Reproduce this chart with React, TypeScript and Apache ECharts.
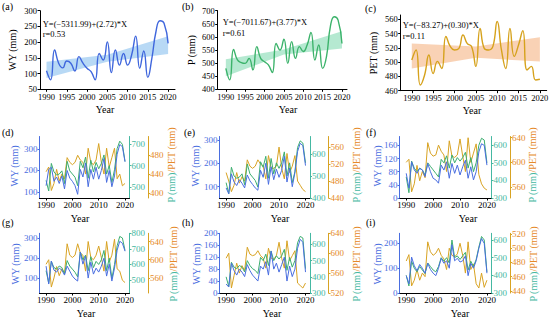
import React, { useEffect, useRef } from 'react';
import * as echarts from 'echarts';

const years = [1990, 1991, 1992, 1993, 1994, 1995, 1996, 1997, 1998, 1999, 2000, 2001, 2002, 2003, 2004, 2005, 2006, 2007, 2008, 2009, 2010, 2011, 2012, 2013, 2014, 2015, 2016, 2017, 2018, 2019, 2020];
const topTicks = [1990, 1995, 2000, 2005, 2010, 2015, 2020];
const bottomTicks = [1990, 2000, 2010, 2020];

// Top row (whole basin)
const wyA = [109, 80, 175, 133, 118, 140, 133, 108, 154, 133, 117, 106, 80, 164, 143, 201, 103, 175, 127, 164, 127, 159, 219, 117, 172, 88, 149, 233, 268, 260, 196];
const pB = [480, 436, 552, 512, 502, 499, 518, 474, 563, 518, 505, 493, 464, 575, 550, 591, 499, 582, 518, 563, 544, 569, 617, 512, 569, 480, 525, 639, 677, 664, 575];
const petC = [503, 517, 468, 482, 510, 484, 501, 491, 536, 522, 517, 519, 538, 526, 522, 494, 547, 519, 517, 522, 557, 517, 491, 547, 508, 524, 544, 489, 494, 475, 476];

const bandYears = [1990, 2005, 2020];
const bandALow = [86, 138, 162];
const bandAHigh = [138, 160, 219];
const bandBLow = [450, 533, 556];
const bandBHigh = [515, 552, 622];
const bandCLow = [491, 506, 501];
const bandCHigh = [526, 522, 535];

// Sub-basins (d)-(i)
const wyD = [130, 205, 215, 150, 170, 140, 175, 115, 200, 165, 150, 130, 90, 205, 170, 235, 125, 205, 160, 215, 160, 200, 255, 145, 200, 125, 175, 275, 320, 310, 240];
const pD = [530, 480, 610, 570, 555, 560, 575, 515, 620, 575, 560, 545, 505, 620, 590, 640, 540, 625, 570, 615, 585, 610, 650, 560, 600, 520, 580, 680, 715, 700, 620];
const petD = [445, 455, 405, 420, 450, 425, 440, 430, 475, 465, 460, 465, 480, 470, 465, 440, 495, 465, 460, 470, 505, 465, 440, 495, 455, 475, 495, 430, 440, 415, 420];

const wyE = [95, 70, 155, 120, 105, 130, 115, 95, 150, 125, 110, 95, 85, 170, 140, 200, 110, 185, 130, 175, 140, 170, 230, 120, 180, 100, 160, 250, 285, 275, 190];
const pE = [470, 420, 540, 500, 490, 495, 510, 460, 555, 510, 495, 480, 450, 565, 540, 590, 490, 580, 510, 560, 535, 560, 610, 500, 560, 470, 520, 630, 660, 650, 560];
const petE = [500, 480, 455, 470, 500, 475, 490, 480, 530, 515, 510, 515, 530, 520, 515, 485, 540, 510, 510, 515, 560, 510, 485, 545, 500, 515, 540, 480, 470, 460, 455];

const wyF = [75, 30, 110, 85, 75, 90, 85, 65, 105, 80, 60, 55, 45, 100, 85, 110, 60, 105, 75, 100, 70, 95, 115, 60, 95, 55, 80, 140, 165, 160, 100];
const pF = [420, 330, 510, 470, 450, 470, 460, 430, 500, 480, 460, 440, 420, 520, 500, 540, 470, 545, 500, 530, 510, 530, 560, 470, 530, 450, 500, 600, 640, 630, 500];
const petF = [600, 605, 552, 565, 595, 570, 585, 575, 632, 615, 610, 612, 628, 618, 612, 585, 635, 610, 608, 612, 638, 610, 585, 640, 600, 615, 630, 580, 565, 558, 555];

const wyG = [160, 70, 185, 140, 130, 150, 140, 115, 160, 135, 110, 95, 85, 230, 170, 210, 100, 180, 120, 150, 130, 160, 200, 110, 170, 85, 150, 240, 285, 275, 235];
const pG = [560, 480, 620, 580, 570, 590, 580, 540, 625, 590, 570, 550, 520, 680, 630, 660, 560, 650, 580, 620, 600, 630, 690, 560, 640, 510, 600, 720, 780, 770, 690];
const petG = [590, 600, 540, 560, 585, 565, 580, 570, 635, 610, 605, 610, 635, 615, 610, 575, 640, 605, 600, 610, 630, 605, 575, 640, 595, 610, 645, 580, 575, 555, 550];

const wyH = [30, 20, 100, 75, 60, 80, 70, 55, 95, 75, 60, 50, 40, 90, 80, 105, 60, 140, 80, 100, 70, 95, 120, 40, 90, 55, 80, 150, 180, 170, 70];
const pH = [400, 340, 490, 460, 450, 470, 460, 430, 500, 470, 450, 440, 420, 520, 500, 540, 470, 560, 500, 530, 510, 530, 570, 440, 520, 460, 500, 610, 650, 640, 450];
const petH = [590, 600, 530, 555, 580, 560, 575, 565, 612, 598, 595, 597, 605, 595, 590, 570, 610, 590, 588, 595, 622, 590, 570, 625, 585, 595, 605, 540, 535, 530, 540];

const wyI = [70, 37, 145, 110, 90, 115, 100, 80, 120, 95, 80, 70, 100, 140, 120, 130, 100, 195, 130, 140, 125, 130, 150, 70, 120, 100, 130, 180, 220, 200, 80];
const pI = [400, 340, 480, 440, 420, 450, 430, 410, 470, 450, 430, 420, 450, 500, 480, 500, 470, 600, 500, 510, 490, 510, 530, 430, 480, 450, 490, 560, 620, 600, 420];
const petI = [482, 491, 447, 455, 470, 455, 465, 460, 509, 495, 490, 493, 500, 490, 485, 470, 500, 490, 488, 492, 507, 490, 465, 509, 470, 478, 450, 444, 465, 445, 455];

const FONT = '"Liberation Serif", "Times New Roman", serif';
const BLUE = '#4a6ee0';
const GREEN = '#3dae70';
const TEAL = '#45b8a2';
const GOLD = '#d8a323';
const ORANGE = '#e58a2a';

const grids: any[] = [];
const xAxes: any[] = [];
const yAxes: any[] = [];
const series: any[] = [];

const plain = (v: number) => String(v);

function pairs(vals: number[]) {
  return years.map((y, i) => [y, vals[i]]);
}

function addXAxis(gi: number, min: number, max: number, ticks: number[], fontSize: number, margin: number) {
  xAxes.push({
    type: 'value', gridIndex: gi, min, max,
    axisLine: { show: true, onZero: false, lineStyle: { color: '#000', width: 1 } },
    axisTick: { show: true, length: 2.5, inside: false, customValues: ticks, lineStyle: { color: '#000' } },
    axisLabel: { customValues: ticks, formatter: plain, fontSize, fontFamily: FONT, color: '#000', margin },
    splitLine: { show: false },
  });
  return xAxes.length - 1;
}

function addTop(c: any) {
  const gi = grids.length;
  grids.push({ left: c.left, top: c.top, width: c.width, height: c.height, containLabel: false, outerBoundsMode: 'none' });
  const xi = addXAxis(gi, c.xmin, c.xmax, topTicks, 8.5, 3);
  yAxes.push({
    type: 'value', gridIndex: gi, min: c.ymin, max: c.ymax,
    axisLine: { show: true, onZero: false, lineStyle: { color: '#000', width: 1 } },
    axisTick: { show: true, length: 2.5, customValues: c.yticks, lineStyle: { color: '#000' } },
    axisLabel: { customValues: c.yticks, formatter: plain, fontSize: 8.5, fontFamily: FONT, color: '#000', margin: 3 },
    splitLine: { show: false },
  });
  const yi = yAxes.length - 1;
  const low = c.low, high = c.high;
  series.push({
    type: 'custom', xAxisIndex: xi, yAxisIndex: yi, silent: true, z: 1,
    data: bandYears.map((y, i) => [y, low[i], high[i]]),
    encode: { x: 0, y: [1, 2] },
    renderItem: (params: any, api: any) => {
      if (params.dataIndex !== 0) return null;
      const up = bandYears.map((y, i) => api.coord([y, high[i]]));
      const lo = bandYears.map((y, i) => api.coord([y, low[i]])).reverse();
      return { type: 'polygon', shape: { points: up.concat(lo) }, style: { fill: c.bandColor, opacity: 0.8 } };
    },
  });
  series.push({
    type: 'line', xAxisIndex: xi, yAxisIndex: yi, z: 3,
    data: pairs(c.values), smooth: 0.5, showSymbol: false, symbol: 'none',
    lineStyle: { color: c.color, width: 1.4 },
  });
}

function yAx(gi: number, a: any, position: string, offset: number, lineColor: string, labelColor: string) {
  yAxes.push({
    type: 'value', gridIndex: gi, min: a.min, max: a.max, position, offset,
    axisLine: { show: true, onZero: false, lineStyle: { color: lineColor, width: 1 } },
    axisTick: { show: true, length: 2, customValues: a.ticks, lineStyle: { color: lineColor } },
    axisLabel: { customValues: a.ticks, formatter: plain, fontSize: 9, fontFamily: FONT, color: labelColor, margin: 2 },
    splitLine: { show: false },
  });
  return yAxes.length - 1;
}

function addBottom(c: any) {
  const gi = grids.length;
  grids.push({ left: c.left, top: c.top, width: c.width, height: c.height, containLabel: false, outerBoundsMode: 'none' });
  const xi = addXAxis(gi, 1987.5, 2021.7, bottomTicks, 9, 2);
  const wyi = yAx(gi, c.wy, 'left', 0, BLUE, BLUE);
  const pi = yAx(gi, c.p, 'right', 0, TEAL, TEAL);
  const ei = yAx(gi, c.pet, 'right', 18.5, GOLD, ORANGE);
  series.push({ type: 'line', xAxisIndex: xi, yAxisIndex: ei, data: pairs(c.petData), showSymbol: false, symbol: 'none', lineStyle: { color: GOLD, width: 1 }, z: 2 });
  series.push({ type: 'line', xAxisIndex: xi, yAxisIndex: pi, data: pairs(c.pData), showSymbol: false, symbol: 'none', lineStyle: { color: GREEN, width: 1 }, z: 3 });
  series.push({ type: 'line', xAxisIndex: xi, yAxisIndex: wyi, data: pairs(c.wyData), showSymbol: false, symbol: 'none', lineStyle: { color: BLUE, width: 1 }, z: 4 });
}

addTop({ left: 40, top: 10.7, width: 135, height: 78.6, xmin: 1988.4, xmax: 2021.7, ymin: 50, ymax: 300, yticks: [50, 100, 150, 200, 250, 300], values: wyA, color: '#3f66dd', low: bandALow, high: bandAHigh, bandColor: '#a6cff2' });
addTop({ left: 217.7, top: 10.7, width: 129.3, height: 78.6, xmin: 1987.9, xmax: 2021.3, ymin: 400, ymax: 700, yticks: [400, 450, 500, 550, 600, 650, 700], values: pB, color: '#3cb36b', low: bandBLow, high: bandBHigh, bandColor: '#a3e4c6' });
addTop({ left: 400.7, top: 15, width: 146, height: 75.7, xmin: 1987.4, xmax: 2021.6, ymin: 460, ymax: 566, yticks: [460, 480, 500, 520, 540, 560], values: petC, color: '#d6a21c', low: bandCLow, high: bandCHigh, bandColor: '#f7c7a3' });

const cols = [{ left: 39.5, width: 90 }, { left: 219.5, width: 90.5 }, { left: 399.5, width: 92 }];
const rows = [{ top: 136.5, height: 61.5 }, { top: 233.3, height: 59.7 }];

addBottom({ ...cols[0], ...rows[0], wy: { min: 73, max: 357, ticks: [100, 200, 300] }, p: { min: 447, max: 737, ticks: [500, 600, 700] }, pet: { min: 389, max: 520, ticks: [400, 440, 480] }, wyData: wyD, pData: pD, petData: petD });
addBottom({ ...cols[1], ...rows[0], wy: { min: 52, max: 314, ticks: [100, 200, 300] }, p: { min: 400, max: 680, ticks: [400, 500, 600] }, pet: { min: 440, max: 585, ticks: [440, 480, 520, 560] }, wyData: wyE, pData: pE, petData: petE });
addBottom({ ...cols[2], ...rows[0], wy: { min: 0, max: 187, ticks: [0, 40, 80, 120, 160] }, p: { min: 300, max: 650, ticks: [300, 400, 500, 600] }, pet: { min: 542, max: 642, ticks: [560, 600, 640] }, wyData: wyF, pData: pF, petData: petF });
addBottom({ ...cols[0], ...rows[1], wy: { min: 25, max: 325, ticks: [100, 200, 300] }, p: { min: 417, max: 800, ticks: [500, 600, 700, 800] }, pet: { min: 527, max: 658, ticks: [560, 600, 640] }, wyData: wyG, pData: pG, petData: petG });
addBottom({ ...cols[1], ...rows[1], wy: { min: 0, max: 200, ticks: [0, 40, 80, 120, 160, 200] }, p: { min: 300, max: 669, ticks: [300, 400, 500, 600] }, pet: { min: 520, max: 640, ticks: [520, 560, 600, 640] }, wyData: wyH, pData: pH, petData: petH });
addBottom({ ...cols[2], ...rows[1], wy: { min: 0, max: 241, ticks: [0, 100, 200] }, p: { min: 300, max: 638, ticks: [300, 400, 500, 600] }, pet: { min: 437, max: 521, ticks: [440, 460, 480, 500, 520] }, wyData: wyI, pData: pI, petData: petI });

function txt(x: number, y: number, text: string, opts: any = {}) {
  return {
    type: 'text', x, y, rotation: opts.rot || 0, silent: true,
    style: {
      text, fill: opts.color || '#000', fontSize: opts.size || 10, fontFamily: FONT,
      fontStyle: opts.italic ? 'italic' : 'normal',
      align: opts.align || 'left', verticalAlign: opts.valign || 'middle',
      textAlign: opts.align || 'left', textVerticalAlign: opts.valign || 'middle',
    },
  };
}

function rightTitle(x: number, y: number) {
  return {
    type: 'text', x, y, rotation: Math.PI / 2, silent: true,
    style: {
      text: '{p|P (mm)}{e|/PET (mm)}',
      rich: {
        p: { fill: TEAL, fontSize: 10, fontFamily: FONT },
        e: { fill: ORANGE, fontSize: 10, fontFamily: FONT },
      },
      align: 'center', verticalAlign: 'middle', textAlign: 'center', textVerticalAlign: 'middle',
    },
  };
}

const V = Math.PI / 2;
const graphics: any[] = [
  txt(2, 6, '(a)'), txt(182, 6, '(b)'), txt(365, 8, '(c)'),
  txt(2, 132, '(d)'), txt(184, 132, '(e)'), txt(366, 132, '(f)'),
  txt(2, 222, '(g)'), txt(182, 222, '(h)'), txt(366, 222, '(i)'),
  txt(12.5, 50, 'WY (mm)', { rot: V, align: 'center' }),
  txt(191, 50, 'P (mm)', { rot: V, align: 'center' }),
  txt(373, 53, 'PET (mm)', { rot: V, align: 'center' }),
  txt(105, 109.5, 'Year', { align: 'center' }),
  txt(288, 109.5, 'Year', { align: 'center' }),
  txt(472, 110, 'Year', { align: 'center' }),
  txt(80, 218, 'Year', { align: 'center' }),
  txt(280, 218, 'Year', { align: 'center' }),
  txt(468, 218, 'Year', { align: 'center' }),
  txt(86, 313, 'Year', { align: 'center' }),
  txt(272, 313, 'Year', { align: 'center' }),
  txt(460, 313, 'Year', { align: 'center' }),
  txt(42.7, 23.5, 'Y=(\u22125311.99)+(2.72)*X', { size: 8.5 }),
  txt(42.7, 33.5, 'r=0.53', { size: 8.5 }),
  txt(222.7, 22, 'Y=(\u22127011.67)+(3.77)*X', { size: 8.5 }),
  txt(222.7, 32.5, 'r=0.61', { size: 8.5 }),
  txt(402.7, 25, 'Y=(\u221283.27)+(0.30)*X', { size: 8.5 }),
  txt(402.7, 35.5, 'r=0.11', { size: 8.5 }),
  txt(14, 166, 'WY (mm)', { rot: V, align: 'center', color: BLUE }),
  txt(195, 166, 'WY (mm)', { rot: V, align: 'center', color: BLUE }),
  txt(377, 166, 'WY (mm)', { rot: V, align: 'center', color: BLUE }),
  txt(15, 264, 'WY (mm)', { rot: V, align: 'center', color: BLUE }),
  txt(196, 264, 'WY (mm)', { rot: V, align: 'center', color: BLUE }),
  txt(377, 264, 'WY (mm)', { rot: V, align: 'center', color: BLUE }),
  rightTitle(171, 165), rightTitle(356, 165), rightTitle(532, 165),
  rightTitle(173, 264), rightTitle(356, 264), rightTitle(533, 264),
];

export default function App() {
  const ref = useRef<HTMLDivElement>(null);
  useEffect(() => {
    if (!ref.current) return;
    const chart = echarts.init(ref.current, null, { renderer: 'svg' });
    chart.setOption({
      animation: false,
      backgroundColor: '#ffffff',
      textStyle: { fontFamily: FONT },
      grid: grids,
      xAxis: xAxes,
      yAxis: yAxes,
      series,
      graphic: { elements: graphics },
    });
    return () => chart.dispose();
  }, []);
  return <div ref={ref} style={{ position: 'fixed', left: 0, top: 0, width: 550, height: 321 }} />;
}
